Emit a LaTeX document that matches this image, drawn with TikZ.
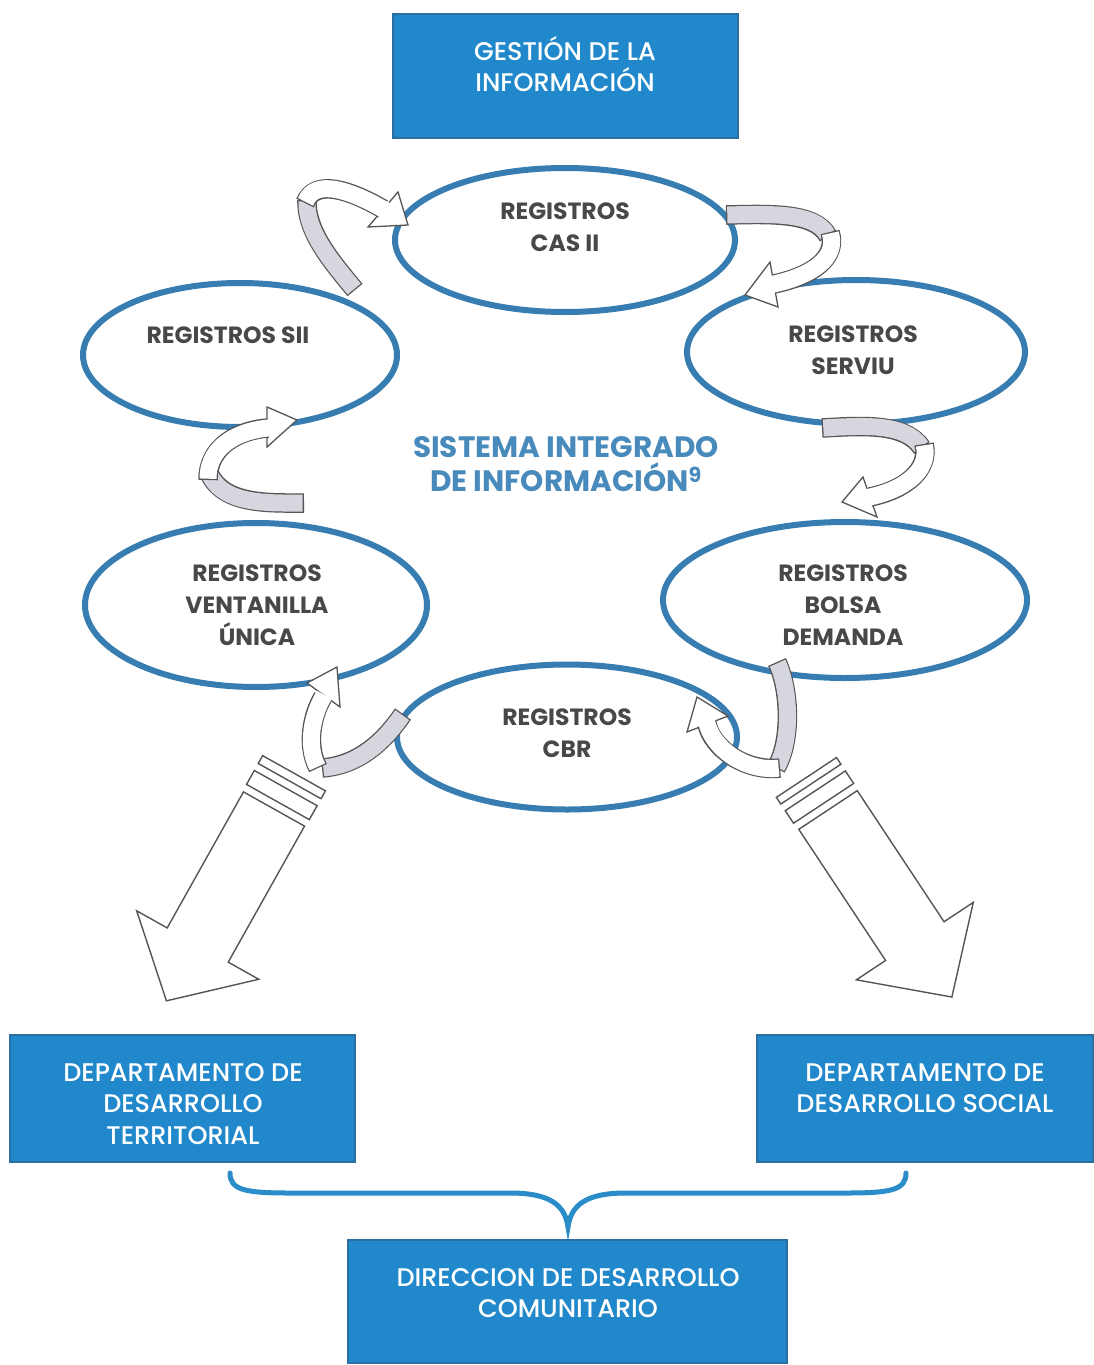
\documentclass[tikz,border=0pt]{standalone}
\usepackage{fontspec}
\setmainfont{Poppins}
\newfontfamily\boxfont{Poppins}[UprightFont=* Medium]
\usetikzlibrary{shapes.geometric}
\definecolor{boxblue}{RGB}{33,137,203}
\definecolor{boxedge}{RGB}{45,110,160}
\definecolor{ellblue}{RGB}{55,125,178}
\definecolor{elltext}{RGB}{72,72,72}
\definecolor{midblue}{RGB}{72,138,188}
\definecolor{olc}{RGB}{85,85,85}
\definecolor{bandc}{RGB}{214,214,222}
\definecolor{bracec}{RGB}{42,140,200}
\newcommand\myribbon[5]{%
  \draw[bandout] #1;
  \draw[bandin] #1;
  \draw[headst] #3 -- #4 -- #5 -- cycle;
  \draw[shaftout] #2;
  \draw[shaftin] #2;
}
\begin{document}
\begin{tikzpicture}[x=1pt,y=-1pt,
  ell/.style={ellipse, draw=ellblue, line width=6pt, inner sep=0pt},
  etxt/.style={font=\fontsize{23.5}{32}\selectfont\bfseries, text=elltext, align=center, inner sep=0pt},
  bluebox/.style={rectangle, fill=boxblue, draw=boxedge, line width=1.5pt, inner sep=0pt},
  btxt/.style={font=\boxfont\fontsize{25.5}{31.5}\selectfont, text=white, align=center, inner sep=0pt},
  midtxt/.style={font=\fontsize{29.5}{34}\selectfont\bfseries, text=midblue, align=center, inner sep=0pt},
  bigarrow/.style={draw=olc, fill=white, line width=1.4pt, line join=miter},
  bandout/.style={draw=olc, line width=19.5pt},
  bandin/.style={draw=bandc, line width=17pt, shorten <=1.3pt, shorten >=1.3pt},
  shaftout/.style={draw=olc, line width=19.5pt},
  shaftin/.style={draw=white, line width=17pt, shorten <=1.3pt, shorten >=-2.5pt},
  headst/.style={draw=olc, fill=white, line width=1.3pt, line join=miter},
  bracest/.style={draw=bracec, line width=5pt, line cap=round}
]
\useasboundingbox[fill=white] (0,0) rectangle (1093,1365);

% boxes
\node[bluebox, minimum width=345pt, minimum height=124pt] (gest) at (565.5,76) {};
\node[btxt] (gestt) at (565,64) {GESTIÓN DE LA\\INFORMACIÓN};
\node[bluebox, minimum width=345pt, minimum height=127pt] (terr) at (182.5,1098.5) {};
\node[btxt] (terrt) at (183,1104) {DEPARTAMENTO DE\\DESARROLLO\\TERRITORIAL};
\node[bluebox, minimum width=336pt, minimum height=127pt] (soc) at (925,1098.5) {};
\node[btxt] (soct) at (925,1088) {DEPARTAMENTO DE\\DESARROLLO SOCIAL};
\node[bluebox, minimum width=439pt, minimum height=123pt] (dir) at (567.5,1301.5) {};
\node[btxt] (dirt) at (568,1293) {DIRECCION DE DESARROLLO\\COMUNITARIO};

% ellipses
\node[ell, minimum width=340pt, minimum height=144pt] (cas) at (565,240) {};
\node[ell, minimum width=314pt, minimum height=144pt] (sii) at (240,355) {};
\node[ell, minimum width=338pt, minimum height=144pt] (serviu) at (856,352) {};
\node[ell, minimum width=342pt, minimum height=164pt] (vent) at (256,605) {};
\node[ell, minimum width=364pt, minimum height=156pt] (bolsa) at (845,600) {};
\node[ell, minimum width=340pt, minimum height=145pt] (cbr) at (567,737) {};

\node[etxt] (cast) at (565,227) {REGISTROS\\CAS II};
\node[etxt] (siit) at (228,335) {REGISTROS SII};
\node[etxt] (serviut) at (853,350) {REGISTROS\\SERVIU};
\node[etxt] (ventt) at (257,605) {REGISTROS\\VENTANILLA\\ÚNICA};
\node[etxt] (bolsat) at (843,605) {REGISTROS\\BOLSA\\DEMANDA};
\node[etxt] (cbrt) at (567,733) {REGISTROS\\CBR};

\node[midtxt] (sis) at (566,464) {SISTEMA INTEGRADO\\DE INFORMACIÓN\textsuperscript{9}};

% big arrows
\begin{scope}[shift={(274,809)}, x={(-0.489pt,-0.872pt)}, y={(0.872pt,-0.489pt)}]
  \draw[bigarrow] (-41,-36) -- (-32,-36) -- (-32,36) -- (-41,36) -- cycle;
  \draw[bigarrow] (-24,-36) -- (-8,-36) -- (-8,36) -- (-24,36) -- cycle;
  \draw[bigarrow] (0,-35) -- (156,-35) -- (156,-70) -- (220,0) -- (156,70) -- (156,35) -- (0,35) -- cycle;
\end{scope}
\begin{scope}[shift={(828,810)}, x={(0.553pt,-0.835pt)}, y={(-0.835pt,-0.553pt)}]
  \draw[bigarrow] (-39,-36) -- (-31,-36) -- (-31,36) -- (-39,36) -- cycle;
  \draw[bigarrow] (-23,-36) -- (-8,-36) -- (-8,36) -- (-23,36) -- cycle;
  \draw[bigarrow] (0,-35) -- (157,-35) -- (157,-70) -- (224,0) -- (157,70) -- (157,35) -- (0,35) -- cycle;
\end{scope}

% curved ribbon arrows
\myribbon{(355,290) .. controls (332,262) and (306,232) .. (307,200)}
         {(305,203) .. controls (315,178) and (350,190) .. (383,209)}
         {(398,192)}{(408,225)}{(368,227)}
\myribbon{(726,215) .. controls (770,214) and (815,212) .. (828,236)}
         {(830,232) .. controls (838,258) and (812,276) .. (774,284)}
         {(770,262)}{(745,295)}{(778,307)}
\myribbon{(822,428) .. controls (860,426) and (905,422) .. (922,448)}
         {(924,444) .. controls (930,470) and (905,490) .. (870,497)}
         {(863,477)}{(842,502)}{(877,517)}
\myribbon{(777,662) .. controls (790,690) and (792,740) .. (776,768)}
         {(780,768) .. controls (745,772) and (712,748) .. (707,724)}
         {(687,732)}{(697,697)}{(728,716)}
\myribbon{(403,714) .. controls (385,740) and (360,765) .. (322,768)}
         {(318,768) .. controls (306,745) and (312,715) .. (323,697)}
         {(307,683)}{(337,667)}{(340,707)}
\myribbon{(304,503) .. controls (270,503) and (225,505) .. (210,475)}
         {(208,480) .. controls (208,445) and (240,430) .. (268,428)}
         {(267,407)}{(297,420)}{(267,447)}

% brace
\coordinate (brl) at (230,1173);
\coordinate (brm) at (568,1227);
\coordinate (brr) at (906,1173);
\draw[bracest] (brl) .. controls (230,1190) and (245,1193) .. (290,1193) -- (510,1193)
   .. controls (550,1193) and (565,1205) .. (brm)
   .. controls (571,1205) and (586,1193) .. (626,1193) -- (846,1193)
   .. controls (891,1193) and (906,1190) .. (brr);
\end{tikzpicture}
\end{document}
